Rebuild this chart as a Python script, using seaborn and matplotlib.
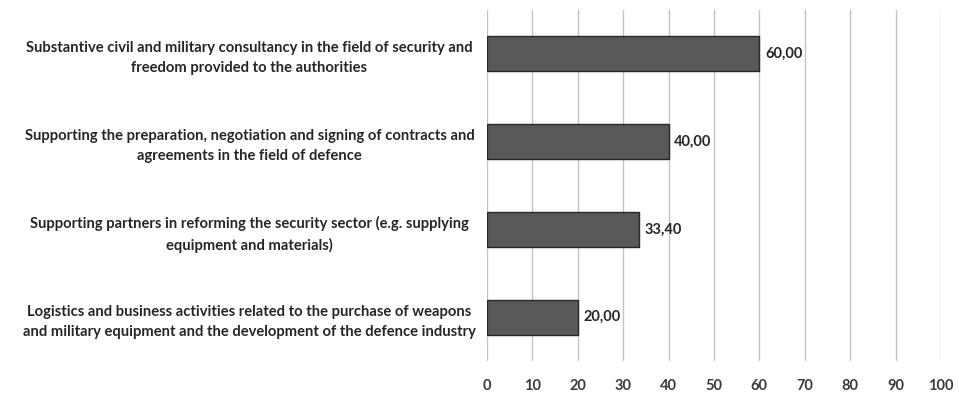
import matplotlib
matplotlib.use("Agg")
import matplotlib.pyplot as plt
import seaborn as sns
import pandas as pd

categories = [
    "Substantive civil and military consultancy in the field of security and\nfreedom provided to the authorities",
    "Supporting the preparation, negotiation and signing of contracts and\nagreements in the field of defence",
    "Supporting partners in reforming the security sector (e.g. supplying\nequipment and materials)",
    "Logistics and business activities related to the purchase of weapons\nand military equipment and the development of the defence industry",
]
values = [60.00, 40.00, 33.40, 20.00]
value_labels = ["60,00", "40,00", "33,40", "20,00"]
x_ticks = [0, 10, 20, 30, 40, 50, 60, 70, 80, 90, 100]

sns.set_theme(style="white")
plt.rcParams["font.family"] = ["Lato", "DejaVu Sans"]

df = pd.DataFrame({"category": categories, "value": values})

fig = plt.figure(figsize=(9.59, 3.93), dpi=100)
ax = fig.add_axes([0.5078, 0.0814, 0.4734, 0.8932])

sns.barplot(data=df, x="value", y="category", orient="h", ax=ax,
            color="#595959", saturation=1, width=0.4,
            edgecolor="#262626", linewidth=1.0, zorder=3)

ax.set_xlim(0, 100)
ax.set_ylim(3.5, -0.5)
ax.set_xticks(x_ticks)
ax.set_xticklabels([str(t) for t in x_ticks], fontsize=10.5, fontweight="bold", color="#3a3a3a")
ax.tick_params(axis="x", length=0, pad=13)
ax.tick_params(axis="y", length=0, pad=171)
for lbl in ax.get_yticklabels():
    lbl.set_fontsize(10.6)
    lbl.set_fontweight("bold")
    lbl.set_color("#262626")
    lbl.set_horizontalalignment("center")
    lbl.set_multialignment("center")
    lbl.set_linespacing(1.55)
ax.set_xlabel("")
ax.set_ylabel("")

ax.grid(axis="x", color="#c4c4c4", linewidth=1.0, zorder=0)
ax.grid(axis="y", visible=False)
for s in ax.spines.values():
    s.set_visible(False)

for i, (v, t) in enumerate(zip(values, value_labels)):
    ax.annotate(t, xy=(v, i), xytext=(4, 0), textcoords="offset points",
                ha="left", va="center", fontsize=10.5, fontweight="bold", color="#262626")

fig.savefig("out.png", dpi=100)
